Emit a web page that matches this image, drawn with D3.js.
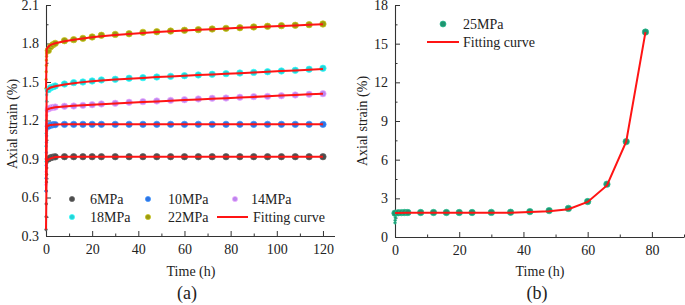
<!DOCTYPE html>
<html><head><meta charset="utf-8">
<script src="https://cdn.jsdelivr.net/npm/d3@7"></script>
<style>
body{margin:0;background:#fff;}
svg text{font-family:"Liberation Serif","Times New Roman",serif;fill:#222;}
</style></head>
<body><svg id="c" width="685" height="305"></svg>
<script>
// ---------- DATA ----------
// Panel (a): creep tests
const seriesNames = ["6MPa","10MPa","14MPa","18MPa","22MPa"];
const seriesColors = ["#4d4d4d","#2f74e3","#bb86ee","#26d2d6","#9c9a12"];
const loadTimes = [0,0.05,0.1,0.15,0.2,0.25,0.3,0.4,0.5];
const load6  = [0.35,0.45,0.55,0.65,0.72,0.78,0.83,0.87,0.89];
const load10 = [0.65,0.75,0.85,0.95,1.03,1.08,1.12,1.14,1.15];
const load14 = [0.70,0.80,0.90,1.00,1.10,1.18,1.24,1.27,1.28];
const load18 = [0.88,1.00,1.10,1.20,1.28,1.35,1.40,1.43,1.44];
const load22 = [1.45,1.52,1.58,1.63,1.67,1.70,1.72,1.73,1.74];
const timesA = [1,2,3,4,8,12,16,20,24,30,36,42,48,54,60,66,72,78,84,90,96,102,108,114,120];
const s6  = [0.900,0.910,0.915,0.917,0.918,0.918,0.918,0.918,0.918,0.918,0.918,0.918,0.918,0.918,0.918,0.918,0.918,0.918,0.918,0.918,0.918,0.918,0.918,0.918,0.918];
const s10 = [1.155,1.163,1.167,1.168,1.170,1.170,1.170,1.170,1.170,1.170,1.170,1.170,1.170,1.170,1.170,1.170,1.170,1.170,1.170,1.170,1.170,1.170,1.170,1.170,1.170];
const s14 = [1.290,1.298,1.302,1.305,1.311,1.313,1.318,1.323,1.329,1.334,1.342,1.347,1.352,1.357,1.362,1.368,1.373,1.375,1.381,1.386,1.388,1.393,1.399,1.404,1.409];
const s18 = [1.440,1.455,1.462,1.469,1.484,1.495,1.500,1.508,1.516,1.521,1.529,1.534,1.539,1.544,1.549,1.555,1.560,1.565,1.570,1.575,1.580,1.586,1.591,1.599,1.607];
const s22 = [1.745,1.775,1.790,1.801,1.822,1.830,1.840,1.851,1.864,1.871,1.876,1.887,1.892,1.897,1.903,1.908,1.913,1.918,1.923,1.929,1.934,1.939,1.942,1.947,1.952];
const fitTimesA = [0,0.3,1,2,4,8,12,16,20,24,30,36,42,48,54,60,66,72,78,84,90,96,102,108,114,120];
const fit6  = [0.35,0.885,0.895,0.905,0.915,0.918,0.918,0.918,0.918,0.918,0.918,0.918,0.918,0.918,0.918,0.918,0.918,0.918,0.918,0.918,0.918,0.918,0.918,0.918,0.918,0.918];
const fit10 = [0.65,1.150,1.160,1.165,1.168,1.170,1.170,1.170,1.170,1.170,1.170,1.170,1.170,1.170,1.170,1.170,1.170,1.170,1.170,1.170,1.170,1.170,1.170,1.170,1.170,1.170];
const fit14 = [0.70,1.280,1.290,1.296,1.303,1.310,1.315,1.319,1.323,1.327,1.333,1.339,1.344,1.349,1.354,1.359,1.364,1.369,1.374,1.379,1.384,1.389,1.394,1.399,1.404,1.409];
const fit18 = [0.88,1.435,1.447,1.457,1.467,1.481,1.491,1.499,1.506,1.512,1.519,1.526,1.532,1.538,1.543,1.549,1.554,1.559,1.564,1.569,1.574,1.580,1.585,1.590,1.596,1.602];
const fit22 = [1.45,1.757,1.775,1.789,1.802,1.818,1.829,1.839,1.848,1.856,1.866,1.874,1.882,1.889,1.895,1.901,1.907,1.912,1.917,1.922,1.927,1.932,1.937,1.941,1.946,1.950];
const yTicksA = [0.3,0.6,0.9,1.2,1.5,1.8,2.1];
const xTicksA = [0,20,40,60,80,100,120];

// Panel (b): 25 MPa
const loadTimesB = [0,0.05,0.1,0.2,0.3];
const loadB = [1.10,1.30,1.50,1.70,1.82];
const timesB = [0,1,2,3,4,8,12,16,20,24,30,36,42,48,54,60,66,72,78];
const s25 = [1.85,1.88,1.89,1.90,1.90,1.90,1.90,1.90,1.90,1.90,1.91,1.92,1.97,2.05,2.22,2.75,4.10,7.40,15.90];
const fitTimesB = [0,4,8,12,16,20,24,30,36,42,48,54,60,66,72,78];
const fit25 = [1.87,1.88,1.88,1.88,1.88,1.88,1.88,1.88,1.89,1.93,2.00,2.15,2.72,4.00,7.40,15.90];
const yTicksB = [0,3,6,9,12,15,18];
const xTicksB = [0,20,40,60,80];

// ---------- DRAW ----------
const svg = d3.select("#c");
const RED = "#ff1414";
const FS = 14;

function panel(opts){
  const g = svg.append("g");
  const x = d3.scaleLinear().domain(opts.xDom).range(opts.xRange);
  const y = d3.scaleLinear().domain(opts.yDom).range(opts.yRange);
  // minor ticks
  const xMinor = d3.range(opts.xDom[0], opts.xDom[1]+1e-9, opts.xMinorStep).filter(v=>!opts.xTicks.includes(v));
  const yMinor = d3.range(opts.yDom[0], opts.yDom[1]+1e-9, opts.yMinorStep).map(v=>+v.toFixed(3)).filter(v=>!opts.yTicks.some(t=>Math.abs(t-v)<1e-6));
  const ax = g.append("g").attr("transform",`translate(0,${opts.yRange[0]})`)
    .call(d3.axisBottom(x).tickValues(opts.xTicks).tickSize(-5).tickSizeOuter(0).tickPadding(5).tickFormat(d3.format("d")));
  g.append("g").attr("transform",`translate(0,${opts.yRange[0]})`)
    .call(d3.axisBottom(x).tickValues(xMinor).tickSize(-2.5).tickSizeOuter(0).tickFormat(""))
    .select(".domain").remove();
  const ay = g.append("g").attr("transform",`translate(${opts.xRange[0]},0)`)
    .call(d3.axisLeft(y).tickValues(opts.yTicks).tickSize(-5).tickSizeOuter(0).tickPadding(7).tickFormat(opts.yFmt));
  g.append("g").attr("transform",`translate(${opts.xRange[0]},0)`)
    .call(d3.axisLeft(y).tickValues(yMinor).tickSize(-2.5).tickSizeOuter(0).tickFormat(""))
    .select(".domain").remove();
  g.selectAll(".domain").attr("stroke","#333").attr("stroke-width",1.1);
  g.selectAll(".tick line").attr("stroke","#333").attr("stroke-width",1);
  g.selectAll(".tick text").attr("font-size",FS).attr("font-family","Liberation Serif").attr("fill","#222");
  ax.selectAll(".tick text").attr("dy","0.9em");
  // labels
  g.append("text").attr("x",opts.xLabelX).attr("y",276).attr("text-anchor","middle").attr("font-size",FS).text("Time (h)");
  g.append("text").attr("x",opts.panelX).attr("y",299).attr("text-anchor","middle").attr("font-size",18).text(opts.panel);
  g.append("text").attr("transform",`translate(${opts.yLabelX},${opts.yLabelY}) rotate(-90)`)
    .attr("text-anchor","middle").attr("dy","0.35em").attr("font-size",FS).text("Axial strain (%)");
  return {g,x,y};
}

function dots(g,x,y,ts,vs,color,r){
  g.append("g").selectAll("circle").data(ts.map((t,i)=>[t,vs[i]])).join("circle")
    .attr("cx",d=>x(d[0])).attr("cy",d=>y(d[1])).attr("r",r)
    .attr("fill",color).attr("stroke",d3.color(color).brighter(0.7)).attr("stroke-width",0.9).attr("stroke-opacity",0.8);
}
function fitLine(g,x,y,ts,vs){
  g.append("path").datum(ts.map((t,i)=>[t,vs[i]]))
    .attr("d",d3.line().x(d=>x(d[0])).y(d=>y(d[1])))
    .attr("fill","none").attr("stroke",RED).attr("stroke-width",2);
}

// Panel (a)
const A = panel({xDom:[0,125],xRange:[46,334.5],yDom:[0.3,2.1],yRange:[236,5],
  xTicks:xTicksA,yTicks:yTicksA,xMinorStep:10,yMinorStep:0.15,yFmt:d3.format(".1f"),
  xLabelX:191,panelX:187,panel:"(a)",yLabelX:12,yLabelY:124});
const loadsA = [load6,load10,load14,load18,load22];
const dataA = [s6,s10,s14,s18,s22];
const fitsA = [fit6,fit10,fit14,fit18,fit22];
dataA.forEach((s,i)=>{
  dots(A.g,A.x,A.y,loadTimes,loadsA[i],seriesColors[i],1.3);
});
dataA.forEach((s,i)=>{
  dots(A.g,A.x,A.y,timesA,s,seriesColors[i],3.2);
});
fitsA.forEach(f=>fitLine(A.g,A.x,A.y,fitTimesA,f));

// legend (a)
const legA = svg.append("g");
const legPos = [[72,199],[148,199],[235,199],[72,217],[148,217]];
const legTextX = [90,168,251,90,168];
seriesNames.forEach((n,i)=>{
  legA.append("circle").attr("cx",legPos[i][0]).attr("cy",legPos[i][1]).attr("r",2.6)
    .attr("fill",seriesColors[i]).attr("stroke",d3.color(seriesColors[i]).brighter(0.7)).attr("stroke-width",0.7);
  legA.append("text").attr("x",legTextX[i]).attr("y",legPos[i][1]).attr("dy","0.35em").attr("font-size",FS).text(n);
});
legA.append("line").attr("x1",217).attr("x2",248).attr("y1",217).attr("y2",217).attr("stroke",RED).attr("stroke-width",2);
legA.append("text").attr("x",253).attr("y",217).attr("dy","0.35em").attr("font-size",FS).text("Fitting curve");

// Panel (b)
const B = panel({xDom:[0,90],xRange:[395,684],yDom:[0,18],yRange:[237,5],
  xTicks:xTicksB,yTicks:yTicksB,xMinorStep:10,yMinorStep:1.5,yFmt:d3.format("d"),
  xLabelX:540,panelX:537,panel:"(b)",yLabelX:362,yLabelY:121});
const c25 = "#1f9470";
dots(B.g,B.x,B.y,loadTimesB,loadB,c25,1.3);
dots(B.g,B.x,B.y,timesB,s25,c25,3.2);
fitLine(B.g,B.x,B.y,fitTimesB,fit25);
const legB = svg.append("g");
legB.append("circle").attr("cx",443).attr("cy",24).attr("r",3).attr("fill",c25).attr("stroke",d3.color(c25).brighter(0.7)).attr("stroke-width",0.7);
legB.append("text").attr("x",463).attr("y",24).attr("dy","0.35em").attr("font-size",FS).text("25MPa");
legB.append("line").attr("x1",427).attr("x2",459).attr("y1",42).attr("y2",42).attr("stroke",RED).attr("stroke-width",2);
legB.append("text").attr("x",463).attr("y",42).attr("dy","0.35em").attr("font-size",FS).text("Fitting curve");
</script></body></html>
